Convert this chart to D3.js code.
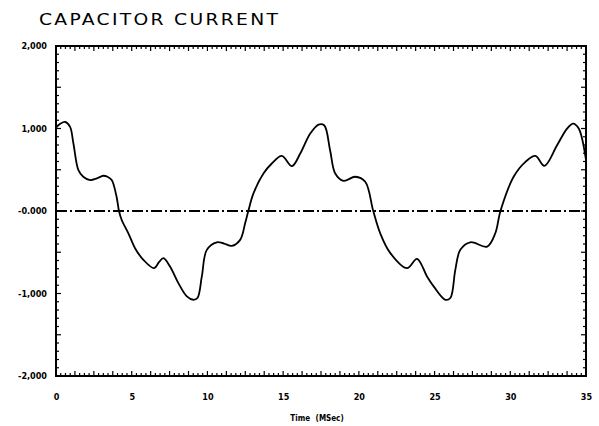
<!DOCTYPE html>
<html>
<head>
<meta charset="utf-8">
<script src="https://cdn.jsdelivr.net/npm/d3@7"></script>
<style>
  body { margin: 0; background: #fff; }
  text { fill: #000; }
</style>
</head>
<body>
<script>
// values (time in ms, capacitor current)
var timeMs = [0.0, 0.3, 0.6, 0.93, 1.15, 1.48, 1.8, 2.25, 2.7, 3.13, 3.4, 3.68, 4.0, 4.16,
    4.34, 4.78, 5.22, 5.77, 6.48, 6.8, 7.09, 7.53, 8.08, 8.64, 9.07, 9.34, 9.63, 9.96,
    10.62, 11.1, 11.61, 12.16, 12.49, 12.7, 13.04, 13.7, 14.25, 14.91, 15.58, 16.13,
    16.79, 17.34, 17.71, 18.1, 18.44, 18.99, 19.76, 20.42, 20.95, 21.41, 22.08, 23.18,
    23.84, 24.5, 24.94, 25.71, 26.04, 26.37, 26.7, 27.36, 28.47, 29.01, 29.35, 30.22,
    31.0, 31.66, 32.25, 33.09, 33.75, 34.15, 34.52, 35.0];
var current = [1010, 1060, 1079, 1019, 818, 495, 415, 375, 395, 427, 415, 375, 173, 0,
    -109, -270, -451, -592, -693, -620, -572, -673, -874, -1035, -1076, -1055, -793, -471,
    -379, -395, -423, -350, -149, 0, 213, 455, 576, 669, 544, 697,
    939, 1048, 1039, 737, 455, 366, 415, 354, 0, -270, -511, -693,
    -580, -793, -914, -1076, -1055, -713, -471, -379, -431, -270, 0, 415,
    596, 669, 548, 798, 999, 1060, 999, 616];

var xTicks = [0, 5, 10, 15, 20, 25, 30, 35];
var yTicks = [2000, 1000, 0, -1000, -2000];
var yTickLabels = ["2,000", "1,000", "-0.000", "-1,000", "-2,000"];

var width = 599, height = 426;
var margin = {left: 56, right: 13, top: 46, bottom: 50};

var svg = d3.select("body").append("svg")
    .attr("width", width)
    .attr("height", height);

var x = d3.scaleLinear().domain([0, 35]).range([margin.left, width - margin.right]);
var y = d3.scaleLinear().domain([-2000, 2000]).range([height - margin.bottom, margin.top]);

var data = timeMs.map(function(t, i){ return {t: t, v: current[i]}; });

// title, wide plotter lettering
var stretch = 1.25;
svg.append("text")
    .attr("transform", "translate(39,25) scale(" + stretch + ",1)")
    .attr("textLength", 239 / stretch)
    .attr("lengthAdjust", "spacing")
    .style("font-family", "DejaVu Sans, sans-serif")
    .style("font-size", "15px")
    .text("CAPACITOR CURRENT");

// minor tick marks, drawn inward
var xMinor = d3.range(0, 35.001, 5 / 16);
var yMinor = d3.range(-2000, 2000.1, 100);
var ticks = svg.append("g").attr("stroke", "#000").attr("stroke-width", 1.2);

xMinor.forEach(function(t, i){
    var len = (i % 4 == 0) ? 5 : 3;
    ticks.append("line").attr("x1", x(t)).attr("x2", x(t))
        .attr("y1", y(2000)).attr("y2", y(2000) + len);
    ticks.append("line").attr("x1", x(t)).attr("x2", x(t))
        .attr("y1", y(-2000)).attr("y2", y(-2000) - len);
});
yMinor.forEach(function(v){
    var len = (Math.abs(v) % 500 == 0) ? 5 : 3;
    ticks.append("line").attr("x1", x(0)).attr("x2", x(0) + len)
        .attr("y1", y(v)).attr("y2", y(v));
    ticks.append("line").attr("x1", x(35)).attr("x2", x(35) - len)
        .attr("y1", y(v)).attr("y2", y(v));
});

// frame
svg.append("rect")
    .attr("x", x(0)).attr("y", y(2000))
    .attr("width", x(35) - x(0)).attr("height", y(-2000) - y(2000))
    .attr("fill", "none").attr("stroke", "#000").attr("stroke-width", 2);

// axis labels via d3 axes with no tick lines
var xAxis = svg.append("g")
    .attr("transform", "translate(0," + (y(-2000) + 15) + ")")
    .call(d3.axisBottom(x).tickValues(xTicks).tickSize(0).tickFormat(d3.format("d")));
xAxis.select(".domain").remove();

var yAxis = svg.append("g")
    .attr("transform", "translate(" + (x(0) - 6) + ",0)")
    .call(d3.axisLeft(y).tickValues(yTicks).tickSize(0)
        .tickFormat(function(d, i){ return yTickLabels[i]; }));
yAxis.select(".domain").remove();

svg.selectAll(".tick text")
    .style("font-family", "DejaVu Sans Condensed, DejaVu Sans, sans-serif")
    .style("font-weight", "bold")
    .style("font-size", "9px")
    .attr("fill", "#000");

svg.append("text")
    .attr("x", (x(0) + x(35)) / 2 - 4)
    .attr("y", 421)
    .attr("text-anchor", "middle")
    .style("font-family", "DejaVu Sans Condensed, DejaVu Sans, sans-serif")
    .style("font-weight", "bold")
    .style("font-size", "8px")
    .style("word-spacing", "3px")
    .text("Time (MSec)");

// zero line, dash-dot
svg.append("line")
    .attr("x1", x(0)).attr("x2", x(35))
    .attr("y1", y(0)).attr("y2", y(0))
    .attr("stroke", "#000").attr("stroke-width", 2)
    .attr("stroke-dasharray", "11,3,2,3");

// current trace
var line = d3.line()
    .x(function(d){ return x(d.t); })
    .y(function(d){ return y(d.v); })
    .curve(d3.curveCatmullRom);

svg.append("path")
    .datum(data)
    .attr("d", line)
    .attr("fill", "none")
    .attr("stroke", "#000")
    .attr("stroke-width", 1.8);
</script>
</body>
</html>
